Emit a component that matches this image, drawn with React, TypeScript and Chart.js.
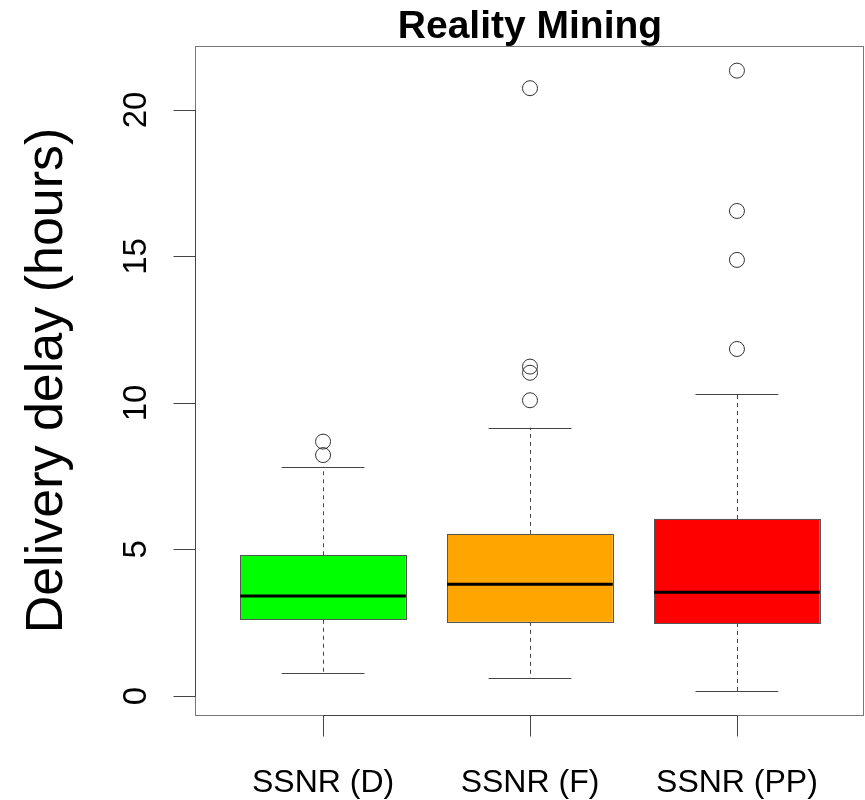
import React, { useEffect, useRef } from "react";
import { Chart, registerables } from "chart.js";

Chart.register(...registerables);

const categories = ["SSNR (D)", "SSNR (F)", "SSNR (PP)"];
const lowerWhisker = [0.78, 0.6, 0.17];
const q1 = [2.6, 2.53, 2.49];
const median = [3.41, 3.81, 3.54];
const q3 = [4.8, 5.53, 6.04];
const upperWhisker = [7.82, 9.16, 10.31];
const outliersD = [8.22, 8.68];
const outliersF = [10.09, 11.03, 11.24, 20.74];
const outliersPP = [11.84, 14.88, 16.55, 21.34];
const boxColors = ["#00FF00", "#FFA500", "#FF0000"];
const yTicks = [0, 5, 10, 15, 20];
const titleText = "Reality Mining";
const yTitle = "Delivery delay (hours)";

const FONT = '"Liberation Sans", Arial, Helvetica, sans-serif';

const boxPlugin = {
  id: "boxPlugin",
  beforeDatasetsDraw(chart: any) {
    const ctx = chart.ctx;
    const xs = chart.scales.x;
    const ys = chart.scales.y;
    ctx.save();
    categories.forEach((_, i) => {
      const cx = xs.getPixelForValue(i + 1);
      const halfBox = (xs.getPixelForValue(i + 1.4) - xs.getPixelForValue(i + 0.6)) / 2;
      const halfCap = halfBox / 2;
      const yQ1 = ys.getPixelForValue(q1[i]);
      const yQ3 = ys.getPixelForValue(q3[i]);
      const yMed = ys.getPixelForValue(median[i]);
      const yLo = ys.getPixelForValue(lowerWhisker[i]);
      const yHi = ys.getPixelForValue(upperWhisker[i]);
      ctx.strokeStyle = "#444";
      ctx.lineWidth = 1;
      ctx.setLineDash([4, 4]);
      ctx.beginPath();
      ctx.moveTo(Math.round(cx) + 0.5, yQ3);
      ctx.lineTo(Math.round(cx) + 0.5, yHi);
      ctx.moveTo(Math.round(cx) + 0.5, yQ1);
      ctx.lineTo(Math.round(cx) + 0.5, yLo);
      ctx.stroke();
      ctx.setLineDash([]);
      ctx.beginPath();
      ctx.moveTo(cx - halfCap, Math.round(yHi) + 0.5);
      ctx.lineTo(cx + halfCap, Math.round(yHi) + 0.5);
      ctx.moveTo(cx - halfCap, Math.round(yLo) + 0.5);
      ctx.lineTo(cx + halfCap, Math.round(yLo) + 0.5);
      ctx.stroke();
      ctx.fillStyle = boxColors[i];
      ctx.fillRect(cx - halfBox, yQ3, halfBox * 2, yQ1 - yQ3);
      ctx.strokeStyle = "#555";
      ctx.strokeRect(Math.round(cx - halfBox) + 0.5, Math.round(yQ3) + 0.5, Math.round(halfBox * 2), Math.round(yQ1 - yQ3));
      ctx.strokeStyle = "#000";
      ctx.lineWidth = 3;
      ctx.beginPath();
      ctx.moveTo(cx - halfBox, yMed);
      ctx.lineTo(cx + halfBox, yMed);
      ctx.stroke();
    });
    ctx.restore();
  },
  afterDraw(chart: any) {
    const ctx = chart.ctx;
    const xs = chart.scales.x;
    const ys = chart.scales.y;
    const a = chart.chartArea;
    ctx.save();
    ctx.strokeStyle = "#777";
    ctx.lineWidth = 1;
    ctx.strokeRect(Math.round(a.left) - 0.5, Math.round(a.top) + 0.5, Math.round(a.right - a.left), Math.round(a.bottom - a.top));
    ctx.strokeStyle = "#444";
    const lx = Math.round(a.left) - 0.5;
    const y0 = ys.getPixelForValue(yTicks[0]);
    const y1 = ys.getPixelForValue(yTicks[yTicks.length - 1]);
    ctx.beginPath();
    ctx.moveTo(lx, y0);
    ctx.lineTo(lx, y1);
    yTicks.forEach((t) => {
      const yy = Math.round(ys.getPixelForValue(t)) + 0.5;
      ctx.moveTo(lx, yy);
      ctx.lineTo(lx - 22, yy);
    });
    ctx.stroke();
    const by = Math.round(a.bottom) + 0.5;
    ctx.beginPath();
    ctx.moveTo(xs.getPixelForValue(1), by);
    ctx.lineTo(xs.getPixelForValue(categories.length), by);
    categories.forEach((_, i) => {
      const xx = Math.round(xs.getPixelForValue(i + 1)) + 0.5;
      ctx.moveTo(xx, by);
      ctx.lineTo(xx, by + 21);
    });
    ctx.stroke();
    ctx.fillStyle = "#000";
    ctx.font = `33px ${FONT}`;
    ctx.textAlign = "center";
    ctx.textBaseline = "alphabetic";
    yTicks.forEach((t) => {
      ctx.save();
      ctx.translate(146, ys.getPixelForValue(t));
      ctx.rotate(-Math.PI / 2);
      ctx.fillText(String(t), 0, 0);
      ctx.restore();
    });
    ctx.font = `32px ${FONT}`;
    categories.forEach((c, i) => {
      ctx.fillText(c, xs.getPixelForValue(i + 1), 792);
    });
    ctx.font = `bold 39px ${FONT}`;
    ctx.fillText(titleText, (a.left + a.right) / 2, 38);
    ctx.font = `52px ${FONT}`;
    ctx.save();
    ctx.translate(62, (a.top + a.bottom) / 2);
    ctx.rotate(-Math.PI / 2);
    ctx.fillText(yTitle, 0, 0);
    ctx.restore();
    ctx.restore();
  },
};

export default function App() {
  const ref = useRef<HTMLCanvasElement>(null);
  useEffect(() => {
    if (!ref.current) return;
    const outlierPoints = [
      ...outliersD.map((v) => ({ x: 1, y: v })),
      ...outliersF.map((v) => ({ x: 2, y: v })),
      ...outliersPP.map((v) => ({ x: 3, y: v })),
    ];
    const chart = new Chart(ref.current, {
      type: "scatter",
      data: {
        datasets: [
          {
            data: outlierPoints,
            pointRadius: 7.5,
            pointHoverRadius: 7.5,
            backgroundColor: "rgba(0,0,0,0)",
            borderColor: "#333",
            borderWidth: 1,
            clip: false as any,
          },
        ],
      },
      options: {
        animation: false,
        responsive: false,
        events: [],
        layout: { autoPadding: false, padding: { left: 196, top: 46, right: 1, bottom: 85 } },
        plugins: { legend: { display: false }, tooltip: { enabled: false } },
        scales: {
          x: { type: "linear", display: false, min: 0.386, max: 3.614 },
          y: { type: "linear", display: false, min: -0.65, max: 22.18 },
        },
      },
      plugins: [boxPlugin],
    });
    return () => chart.destroy();
  }, []);
  return (
    <div style={{ position: "absolute", left: 0, top: 0, width: 865, height: 800, background: "#fff" }}>
      <canvas ref={ref} width={865} height={800} />
    </div>
  );
}
